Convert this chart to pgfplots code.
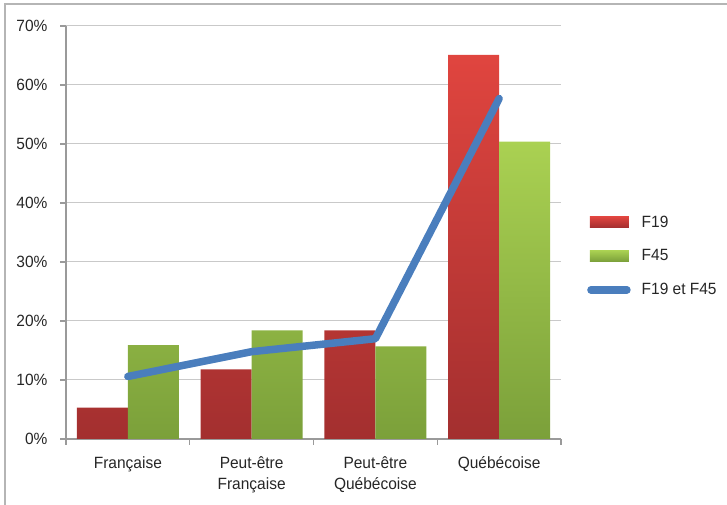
\documentclass[border=0pt]{standalone}
\usepackage{pgfplots}
\pgfplotsset{compat=1.18}
\usepackage{fontspec}
\setmainfont{Liberation Sans}
\newfontfamily\chartfont[FakeStretch=0.95]{Liberation Sans}
\definecolor{gridc}{HTML}{C9C9C9}
\definecolor{axc}{HTML}{9A9A9A}
\definecolor{framec}{HTML}{B5B5B5}
\definecolor{redtop}{HTML}{E0453F}
\definecolor{redbot}{HTML}{A32F2F}
\definecolor{grntop}{HTML}{AAD152}
\definecolor{grnbot}{HTML}{7BA03A}
\definecolor{blu}{HTML}{4A7EBD}
\definecolor{txt}{HTML}{262626}
\begin{document}
\begin{tikzpicture}[x=1pt,y=1pt]
\path[use as bounding box] (0,0) rectangle (727,505);
\draw[color=framec, line width=1.5pt] (5,-5) -- (5,501) -- (735,501);
\begin{axis}[
  at={(66pt,66pt)}, anchor=south west,
  scale only axis, width=495pt, height=413pt,
  xmin=-0.5, xmax=3.5, ymin=0, ymax=70,
  axis lines*=left,
  axis line style={color=axc, line width=1.5pt},
  xtick={0,1,2,3},
  xticklabels={Française, Peut-être\\Française, Peut-être\\Québécoise, Québécoise},
  minor xtick={-0.5,0.5,1.5,2.5,3.5},
  major x tick style={draw=none},
  minor x tick style={color=axc, line width=1.2pt},
  minor tick length=6pt,
  ytick={0,10,...,70},
  yticklabel={\pgfmathprintnumber{\tick}\%},
  y tick style={color=axc, line width=1.2pt},
  major tick length=6pt,
  tick align=outside,
  ymajorgrids,
  grid style={color=gridc, line width=1pt},
  /pgf/number format/assume math mode=true,
  tick label style={font=\chartfont\fontsize{16.3}{21.5}\selectfont, text=txt},
  xticklabel style={align=center, yshift=-8pt},
  yticklabel style={xshift=-9pt},
  legend style={at={(1.0525,0.443)}, anchor=west, draw=none, fill=none,
    inner sep=0pt, font=\chartfont\fontsize{16.3}{19}\selectfont, text=txt,
    row sep=17pt, /tikz/column sep=9pt},
  legend cell align=left,
]
\addplot[ybar, bar width=51pt, bar shift=-25.5pt, draw=none,
  top color=redtop, bottom color=redbot,
  legend image code/.code={\fill[top color=redtop, bottom color=redbot, draw=none] (3pt,-5.5pt) rectangle (42pt,5.5pt);}]
  coordinates {(0,5.3) (1,11.8) (2,18.4) (3,65.1)};
\addlegendentry{F19}
\addplot[ybar, bar width=51pt, bar shift=25.5pt, draw=none,
  top color=grntop, bottom color=grnbot,
  legend image code/.code={\fill[top color=grntop, bottom color=grnbot, draw=none] (3pt,-5.5pt) rectangle (42pt,5.5pt);}]
  coordinates {(0,15.9) (1,18.4) (2,15.7) (3,50.4)};
\addlegendentry{F45}
\addplot[color=blu, line width=7.5pt, line cap=round, line join=round, mark=none,
  legend image code/.code={\draw[color=blu, line width=7.5pt, line cap=round] (4pt,0pt) -- (40pt,0pt);}]
  coordinates {(0,10.6) (1,14.8) (2,17.0) (3,57.7)};
\addlegendentry{F19 et F45}
\end{axis}
\end{tikzpicture}
\end{document}
